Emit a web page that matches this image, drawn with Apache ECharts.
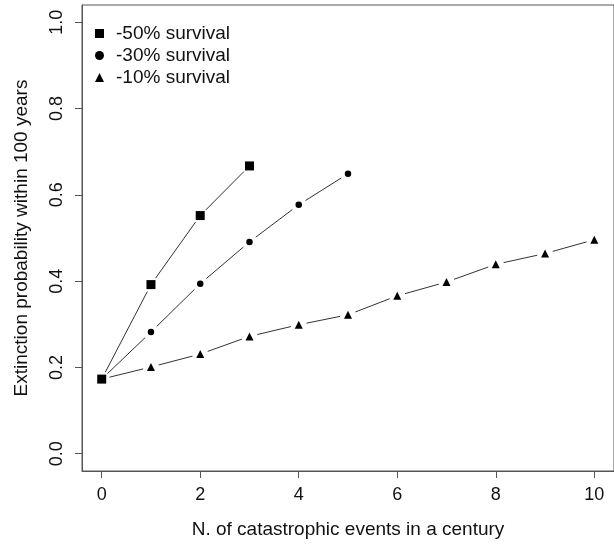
<!DOCTYPE html>
<html>
<head>
<meta charset="utf-8">
<script src="https://cdn.jsdelivr.net/npm/echarts@6/dist/echarts.min.js"></script>
<style>
html,body{margin:0;padding:0;background:#fff;}
#chart{width:614px;height:546px;}
</style>
</head>
<body>
<div id="chart"></div>
<script>
// ---- data ----
const seriesNames = ['-50% survival', '-30% survival', '-10% survival'];
const events50 = [0, 1, 2, 3];
const prob50 = [0.173, 0.392, 0.552, 0.667];
const events30 = [0, 1, 2, 3, 4, 5];
const prob30 = [0.173, 0.282, 0.394, 0.491, 0.577, 0.649];
const events10 = [0, 1, 2, 3, 4, 5, 6, 7, 8, 9, 10];
const prob10 = [0.173, 0.201, 0.231, 0.272, 0.299, 0.322, 0.366, 0.398, 0.439, 0.464, 0.496];
const xTicks = [0, 2, 4, 6, 8, 10];
const yTicks = [0.0, 0.2, 0.4, 0.6, 0.8, 1.0];
const xTitle = 'N. of catastrophic events in a century';
const yTitle = 'Extinction probability within 100 years';

// ---- helpers ----
const FONT = 'Liberation Sans, Arial, sans-serif';
function points(xs, ys) { return xs.map((x, i) => [x, ys[i]]); }
function segments(xs, ys) {
  const out = [];
  for (let i = 0; i < xs.length - 1; i++) out.push([xs[i], ys[i], xs[i + 1], ys[i + 1]]);
  return out;
}
const GAP = 8;
function renderSeg(params, api) {
  const a = api.coord([api.value(0), api.value(1)]);
  const b = api.coord([api.value(2), api.value(3)]);
  const dx = b[0] - a[0], dy = b[1] - a[1];
  const L = Math.hypot(dx, dy);
  if (L <= 2 * GAP) return null;
  const ux = dx / L, uy = dy / L;
  return {
    type: 'line',
    shape: { x1: a[0] + ux * GAP, y1: a[1] + uy * GAP, x2: b[0] - ux * GAP, y2: b[1] - uy * GAP },
    style: { stroke: '#333', lineWidth: 1 }
  };
}
function segSeries(id, xs, ys) {
  return {
    type: 'custom', name: id, renderItem: renderSeg,
    data: segments(xs, ys), encode: { x: [0, 2], y: [1, 3] },
    silent: true, clip: false, z: 2
  };
}
function pointSeries(name, xs, ys, symbol, size, z) {
  return {
    type: 'scatter', name: name, data: points(xs, ys),
    symbol: symbol, symbolSize: size,
    itemStyle: { color: '#000', opacity: 1 },
    silent: true, z: z
  };
}

const chart = echarts.init(document.getElementById('chart'), null, { renderer: 'canvas' });
chart.setOption({
  animation: false,
  backgroundColor: '#fff',
  grid: {
    left: 82, top: 5, width: 534, height: 466,
    show: true, borderColor: '#555', borderWidth: 1, backgroundColor: 'transparent'
  },
  legend: {
    orient: 'vertical', left: 90, top: 19,
    itemWidth: 9, itemHeight: 9, itemGap: 3,
    selectedMode: false,
    textStyle: { fontFamily: FONT, fontSize: 19, color: '#111', lineHeight: 19, padding: [0, 0, 0, 7] },
    data: [
      { name: seriesNames[0], icon: 'rect' },
      { name: seriesNames[1], icon: 'circle' },
      { name: seriesNames[2], icon: 'triangle' }
    ]
  },
  xAxis: {
    type: 'value', min: -0.4, max: 10.4,
    name: xTitle, nameLocation: 'middle', nameGap: 49,
    nameTextStyle: { fontFamily: FONT, fontSize: 19, color: '#111' },
    axisLine: { show: true, onZero: false, lineStyle: { color: '#555', width: 1 } },
    axisTick: { show: true, inside: false, length: 7, customValues: xTicks, lineStyle: { color: '#555' } },
    axisLabel: { customValues: xTicks, fontFamily: FONT, fontSize: 18, color: '#111', margin: 15,
      formatter: v => String(v) },
    splitLine: { show: false }
  },
  yAxis: {
    type: 'value', min: -0.04, max: 1.04,
    name: yTitle, nameLocation: 'middle', nameGap: 51, nameRotate: 90,
    nameTextStyle: { fontFamily: FONT, fontSize: 19, color: '#111' },
    axisLine: { show: true, onZero: false, lineStyle: { color: '#555', width: 1 } },
    axisTick: { show: true, inside: false, length: 7, customValues: yTicks, lineStyle: { color: '#555' } },
    axisLabel: { customValues: yTicks, rotate: 90, fontFamily: FONT, fontSize: 18, color: '#111', margin: 16,
      formatter: v => v.toFixed(1) },
    splitLine: { show: false }
  },
  series: [
    segSeries('seg10', events10, prob10),
    segSeries('seg30', events30, prob30),
    segSeries('seg50', events50, prob50),
    pointSeries(seriesNames[2], events10, prob10, 'triangle', 8, 3),
    pointSeries(seriesNames[1], events30, prob30, 'circle', 6.5, 4),
    pointSeries(seriesNames[0], events50, prob50, 'rect', 9, 5)
  ]
});
</script>
</body>
</html>
